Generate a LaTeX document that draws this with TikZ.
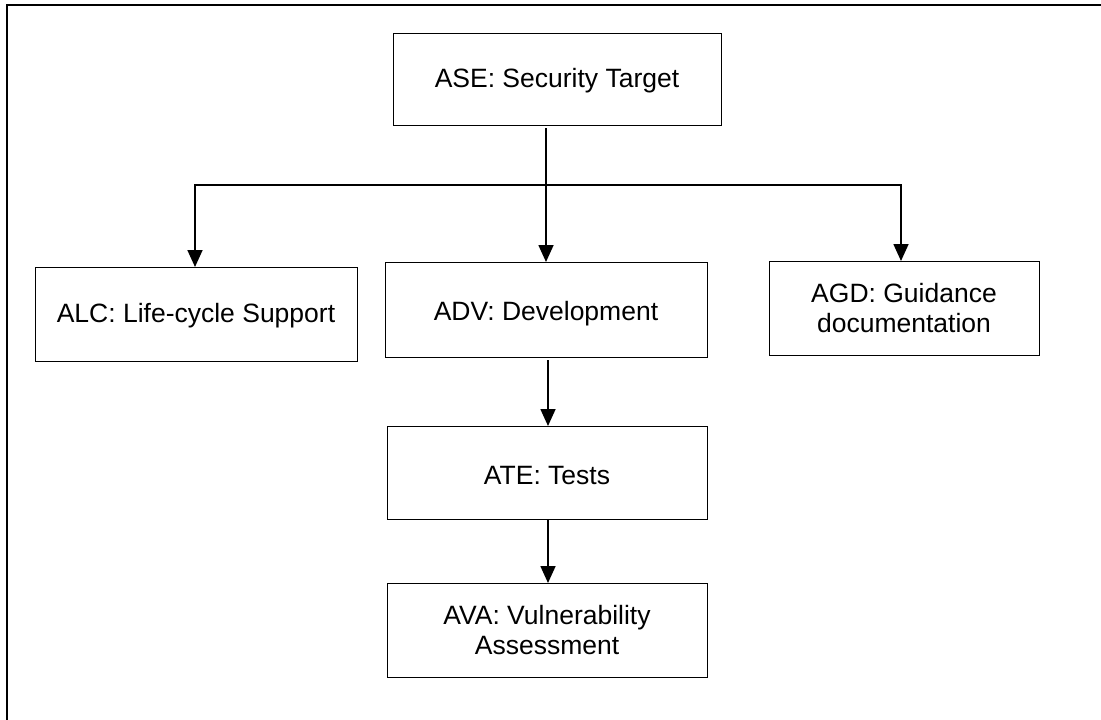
\documentclass[tikz,border=0pt]{standalone}
\usepackage{fontspec}
\setmainfont{Liberation Sans}
\usetikzlibrary{arrows.meta}
% shift a label down without changing the size it reports
\newcommand\lowered[2]{\raisebox{-#1pt}[\height][\depth]{#2}}
\begin{document}
\begin{tikzpicture}[x=1pt,y=-1pt,
  box/.style={draw=black, line width=1pt, fill=white, inner sep=0pt, outer sep=0pt,
              align=center, font=\fontsize{26.5}{30.5}\selectfont},
  link/.style={draw=black, line width=1.7pt,
               -{Triangle[width=15pt,length=17pt]}}]
\useasboundingbox (0,0) rectangle (1101,720);
% page frame (right and bottom edges fall outside the page)
\draw[line width=2.5pt] (1101,5) -- (7,5) -- (7,720);

\node[box, minimum width=328pt, minimum height=92pt] (ASE) at (557,79) {\lowered{1.5}{ASE: Security Target}};
\node[box, minimum width=322pt, minimum height=94pt] (ALC) at (196,314) {\lowered{2}{ALC: Life-cycle Support}};
\node[box, minimum width=322pt, minimum height=95pt] (ADV) at (546,309.5) {\lowered{4}{ADV: Development}};
\node[box, minimum width=270pt, minimum height=94pt] (AGD) at (904,308) {AGD: Guidance\\documentation};
\node[box, minimum width=320pt, minimum height=93pt] (ATE) at (547,472.5) {\lowered{3.5}{ATE: Tests}};
\node[box, minimum width=320pt, minimum height=94pt] (AVA) at (547,630) {AVA: Vulnerability\\Assessment};

\coordinate (hub) at (546,185);
\draw[link] ([yshift=-3pt]ADV.north |- ASE.south) -- (ADV.north);
\draw[link] (hub) -| ([xshift=-1pt]ALC.north);
\draw[link] (hub) -| ([xshift=-3pt]AGD.north);
\draw[link] ([xshift=2pt,yshift=-3pt]ADV.south) -- ([xshift=1pt]ATE.north);
\draw[link] ([xshift=1pt]ATE.south) -- ([xshift=1pt]AVA.north);
\end{tikzpicture}
\end{document}
